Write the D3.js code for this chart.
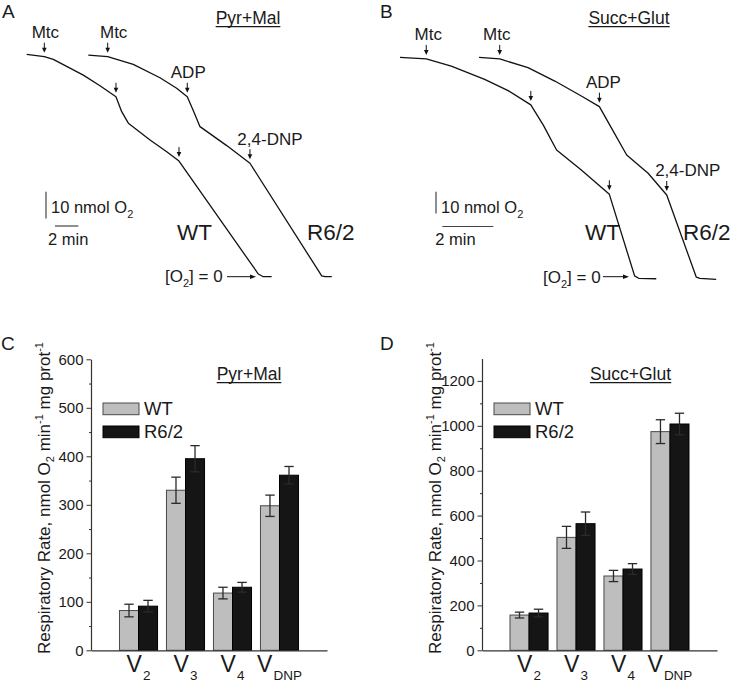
<!DOCTYPE html>
<html>
<head>
<meta charset="utf-8">
<script src="https://d3js.org/d3.v7.min.js"></script>
<style>
  body { margin: 0; background: #fff; }
  text { font-family: "Liberation Sans", Arial, sans-serif; fill: #1a1a1a; }
</style>
</head>
<body>
<div id="viz"></div>
<script>
// ---------- data ----------
const categories = ['V2', 'V3', 'V4', 'VDNP'];
const catSub = ['2', '3', '4', 'DNP'];
const series = ['WT', 'R6/2'];

// respiratory rates, nmol O2 / min / mg prot (mean, SE)
const pmWT = [82, 330, 118, 298];
const pmWTse = [13, 27, 12, 22];
const pmR62 = [91, 395, 130, 361];
const pmR62se = [12, 27, 10, 18];

const sgWT = [157, 503, 331, 974];
const sgWTse = [13, 49, 25, 53];
const sgR62 = [166, 564, 362, 1008];
const sgR62se = [17, 52, 24, 48];

const pmTicks = [0, 100, 200, 300, 400, 500, 600];
const pmMinor = [50, 150, 250, 350, 450, 550];
const sgTicks = [0, 200, 400, 600, 800, 1000, 1200];
const sgMinor = [100, 300, 500, 700, 900, 1100];

// oxygen traces: [time (min), O2 left (nmol)]
const aWT = [[0.06, 83.3], [1.57, 82.4], [2.34, 81.4], [4.91, 75.5], [6.34, 71.5], [7.71, 67.4],
  [8.2, 61.8], [8.77, 57.5], [10.63, 51.2], [12.06, 46.8], [13.11, 43.3], [19.91, 1.0], [20.33, 0], [21.05, 0]];
const aR62 = [[5.34, 83.0], [7.0, 82.4], [9.19, 79.5], [11.48, 74.5], [12.91, 70.6], [13.82, 67.4],
  [14.35, 62.1], [14.91, 56.2], [17.2, 49.1], [19.19, 42.5], [25.34, 0.3], [25.62, 0], [26.2, 0]];
const bWT = [[0, 101.8], [1.03, 101.1], [2.01, 97.8], [3.32, 91.7], [4.24, 86.5], [5.13, 79.9],
  [5.62, 70.6], [6.14, 59.1], [7.11, 49.9], [8.21, 38.7], [9.2, 1.1], [9.36, 0], [10.05, -0.2]];
const bR62 = [[3.1, 101.8], [3.91, 101.1], [5.02, 97.1], [6.07, 90.9], [7.11, 84.0], [7.82, 79.1],
  [8.3, 69.1], [8.89, 56.8], [9.73, 48.4], [10.46, 38.4], [11.62, 0.5], [11.76, 0], [12.4, -0.5]];

// additions: [time, O2, label]
const aEvents = [[1.57, 82.4, 'Mtc'], [7.0, 82.4, 'Mtc'], [7.71, 67.4, ''], [13.82, 67.4, 'ADP'],
  [13.11, 43.3, ''], [19.19, 42.5, '2,4-DNP']];
const bEvents = [[1.03, 101.1, 'Mtc'], [3.91, 101.1, 'Mtc'], [5.13, 79.9, ''], [7.82, 79.1, 'ADP'],
  [8.21, 38.7, ''], [10.46, 38.4, '2,4-DNP']];

// ---------- drawing ----------
const width = 736, height = 683;
const svg = d3.select('#viz').append('svg')
  .attr('width', width).attr('height', height);

function underlined(x, y, txt, size) {
  const t = svg.append('text').attr('x', x).attr('y', y)
    .attr('text-anchor', 'middle').attr('font-size', size).text(txt);
  const bb = t.node().getBBox();
  svg.append('line')
    .attr('x1', bb.x).attr('x2', bb.x + bb.width)
    .attr('y1', y + 2.6).attr('y2', y + 2.6)
    .attr('stroke', '#1a1a1a').attr('stroke-width', 1.1);
}

function tracePanel(p) {
  const xs = d3.scaleLinear().domain([0, 1]).range([p.ox, p.ox + p.pxMin]);
  const ys = d3.scaleLinear().domain([0, 1]).range([p.oy, p.oy - p.pxNmol]);
  const line = d3.line().x(d => xs(d[0])).y(d => ys(d[1]));

  [p.wt, p.r62].forEach(tr => {
    svg.append('path').attr('d', line(tr))
      .attr('fill', 'none').attr('stroke', '#111')
      .attr('stroke-width', 1.3).attr('stroke-linejoin', 'round');
  });

  // arrows for additions
  p.events.forEach((e, i) => {
    const x = xs(e[0]);
    const tip = ys(e[1]) - p.gap;
    svg.append('line').attr('x1', x).attr('x2', x)
      .attr('y1', tip - 10).attr('y2', tip - 4)
      .attr('stroke', '#111').attr('stroke-width', 1);
    svg.append('path')
      .attr('d', `M${x - 2.3},${tip - 5}L${x + 2.3},${tip - 5}L${x},${tip}Z`)
      .attr('fill', '#111');
    if (e[2]) {
      svg.append('text').attr('x', x + p.labelDx[i]).attr('y', tip - 14.5)
        .attr('text-anchor', 'middle').attr('font-size', 17).text(e[2]);
    }
  });

  // scale bars
  svg.append('line').attr('x1', p.sbx).attr('x2', p.sbx)
    .attr('y1', p.sby).attr('y2', p.sby + (ys(0) - ys(10)))
    .attr('stroke', '#444').attr('stroke-width', 1.2);
  svg.append('line').attr('x1', p.sbhx).attr('x2', p.sbhx + (xs(2) - xs(0)))
    .attr('y1', p.sbhy).attr('y2', p.sbhy)
    .attr('stroke', '#444').attr('stroke-width', 1.2);

  const nm = svg.append('text').attr('x', p.sbx + 5).attr('y', 213.3).attr('font-size', 16.5);
  nm.append('tspan').text('10 nmol O');
  nm.append('tspan').attr('font-size', 11).attr('dy', 5).text('2');
  svg.append('text').attr('x', p.sbhx - 7).attr('y', 245).attr('font-size', 16.5).text('2 min');

  svg.append('text').attr('x', p.wtX).attr('y', 239.5).attr('font-size', 22.5).text('WT');
  svg.append('text').attr('x', p.r6X).attr('y', 239.5).attr('font-size', 22.5).text('R6/2');

  const o2 = svg.append('text').attr('x', p.o2x).attr('y', p.o2y).attr('font-size', 17);
  o2.append('tspan').text('[O');
  o2.append('tspan').attr('font-size', 11).attr('dy', 5).text('2');
  o2.append('tspan').attr('dy', -5).text('] = 0');
  svg.append('line').attr('x1', p.arx0).attr('x2', p.arx1 - 5)
    .attr('y1', 276.7).attr('y2', 276.7).attr('stroke', '#111').attr('stroke-width', 1);
  svg.append('path')
    .attr('d', `M${p.arx1 - 6},274.4L${p.arx1 - 6},279L${p.arx1},276.7Z`).attr('fill', '#111');

  underlined(p.titleX, 24, p.title, 17.5);
  svg.append('text').attr('x', p.letterX).attr('y', 17.5).attr('font-size', 19).text(p.letter);
}

function barPanel(p) {
  const x0 = d3.scaleBand().domain(categories).range([p.x0, p.x1])
    .paddingInner(0.19).paddingOuter(p.po);
  const x1 = d3.scaleBand().domain(series).range([0, x0.bandwidth()]);
  const y = d3.scaleLinear().domain([0, p.ymax]).range([650.3, p.ytop]);

  const g = svg.append('g');

  const rows = categories.map((c, i) => ({
    cat: c,
    vals: [
      { s: 'WT', v: p.wt[i], e: p.wtSe[i] },
      { s: 'R6/2', v: p.r62[i], e: p.r62Se[i] }
    ]
  }));

  const grp = g.selectAll('.grp').data(rows).enter().append('g')
    .attr('class', 'grp')
    .attr('transform', d => `translate(${x0(d.cat)},0)`);

  grp.selectAll('rect').data(d => d.vals).enter().append('rect')
    .attr('x', d => x1(d.s))
    .attr('y', d => y(d.v))
    .attr('width', x1.bandwidth())
    .attr('height', d => y(0) - y(d.v))
    .attr('fill', d => d.s === 'WT' ? '#bebebe' : '#151515')
    .attr('stroke', d => d.s === 'WT' ? '#4a4a4a' : '#000')
    .attr('stroke-width', 1);

  const eb = grp.selectAll('.eb').data(d => d.vals).enter().append('g').attr('class', 'eb')
    .attr('stroke', '#2a2a2a').attr('stroke-width', 1.3);
  const cx = d => x1(d.s) + x1.bandwidth() / 2;
  eb.append('line').attr('x1', cx).attr('x2', cx)
    .attr('y1', d => y(d.v - d.e)).attr('y2', d => y(d.v + d.e));
  eb.append('line').attr('x1', d => cx(d) - 4.7).attr('x2', d => cx(d) + 4.7)
    .attr('y1', d => y(d.v + d.e)).attr('y2', d => y(d.v + d.e));
  eb.append('line').attr('x1', d => cx(d) - 4.7).attr('x2', d => cx(d) + 4.7)
    .attr('y1', d => y(d.v - d.e)).attr('y2', d => y(d.v - d.e));

  // axes
  const ya = g.append('g').attr('transform', `translate(${p.x0},0)`)
    .attr('color', '#333')
    .call(d3.axisLeft(y).tickValues(p.ticks).tickSize(4.5).tickSizeOuter(0)
      .tickPadding(3).tickFormat(d3.format('d')));
  ya.attr('font-size', 15).attr('font-family', '"Liberation Sans", Arial, sans-serif');
  ya.selectAll('text').style('fill', '#1a1a1a');
  ya.select('.domain').attr('stroke-width', 1.2);
  const ym = g.append('g').attr('transform', `translate(${p.x0},0)`)
    .attr('color', '#333')
    .call(d3.axisLeft(y).tickValues(p.minor).tickSize(2).tickFormat(''));
  ym.select('.domain').remove();

  const xa = g.append('g').attr('transform', `translate(0,${y(0)})`)
    .attr('color', '#333')
    .call(d3.axisBottom(x0).tickSize(0).tickFormat(''));
  xa.select('.domain').attr('stroke-width', 1.2);

  categories.forEach((c, i) => {
    const t = g.append('text')
      .attr('x', x0(c) + x0.bandwidth() / 2).attr('y', 671.5)
      .attr('text-anchor', 'middle').attr('font-size', 23);
    t.append('tspan').text('V');
    t.append('tspan').attr('font-size', 13.5).attr('dy', 8.5).attr('dx', 1).text(catSub[i]);
  });

  // legend
  series.forEach((s, i) => {
    g.append('rect').attr('x', p.x0 + 12).attr('y', 403 + i * 23)
      .attr('width', 36).attr('height', 11.7)
      .attr('fill', s === 'WT' ? '#bebebe' : '#151515')
      .attr('stroke', s === 'WT' ? '#4a4a4a' : '#000').attr('stroke-width', 1);
    g.append('text').attr('x', p.x0 + 53).attr('y', 414.5 + i * 23)
      .attr('font-size', 18.5).text(s);
  });

  // y title
  const yt = g.append('text')
    .attr('transform', `translate(${p.x0 - 41.5},498) rotate(-90)`)
    .attr('text-anchor', 'middle').attr('font-size', 17);
  yt.append('tspan').text('Respiratory Rate, nmol O');
  yt.append('tspan').attr('font-size', 11).attr('dy', 4).text('2');
  yt.append('tspan').attr('dy', -4).text(' min');
  yt.append('tspan').attr('font-size', 11).attr('dy', -7).text('-1');
  yt.append('tspan').attr('dy', 7).text(' mg prot');
  yt.append('tspan').attr('font-size', 11).attr('dy', -7).text('-1');

  underlined(p.titleX, 380, p.title, 17.5);
  svg.append('text').attr('x', p.letterX).attr('y', 350).attr('font-size', 19).text(p.letter);
}

tracePanel({
  wt: aWT, r62: aR62, events: aEvents, labelDx: [1, 6, 0, 1, 0, 20],
  ox: 26, pxMin: 11.67, oy: 276.7, pxNmol: 2.67, gap: 4,
  sbx: 46, sby: 191.7, sbhx: 55, sbhy: 226,
  wtX: 177, r6X: 307, o2x: 165, o2y: 281.7, arx0: 227, arx1: 256,
  title: 'Pyr+Mal', titleX: 248, letter: 'A', letterX: 2
});

tracePanel({
  wt: bWT, r62: bR62, events: bEvents, labelDx: [2, -3, 0, 4, 0, 21],
  ox: 400, pxMin: 25.5, oy: 278.3, pxNmol: 2.17, gap: 4,
  sbx: 436, sby: 191.7, sbhx: 442.3, sbhy: 226.5,
  wtX: 585, r6X: 683, o2x: 543, o2y: 283.3, arx0: 603, arx1: 629,
  title: 'Succ+Glut', titleX: 629, letter: 'B', letterX: 380
});

barPanel({
  wt: pmWT, wtSe: pmWTse, r62: pmR62, r62Se: pmR62se,
  ticks: pmTicks, minor: pmMinor, ymax: 600, ytop: 359.3,
  x0: 91, x1: 327, po: 0.606,
  title: 'Pyr+Mal', titleX: 249, letter: 'C', letterX: 1
});

barPanel({
  wt: sgWT, wtSe: sgWTse, r62: sgR62, r62Se: sgR62se,
  ticks: sgTicks, minor: sgMinor, ymax: 1300, ytop: 358.45,
  x0: 482, x1: 717, po: 0.596,
  title: 'Succ+Glut', titleX: 630.5, letter: 'D', letterX: 380
});
</script>
</body>
</html>
